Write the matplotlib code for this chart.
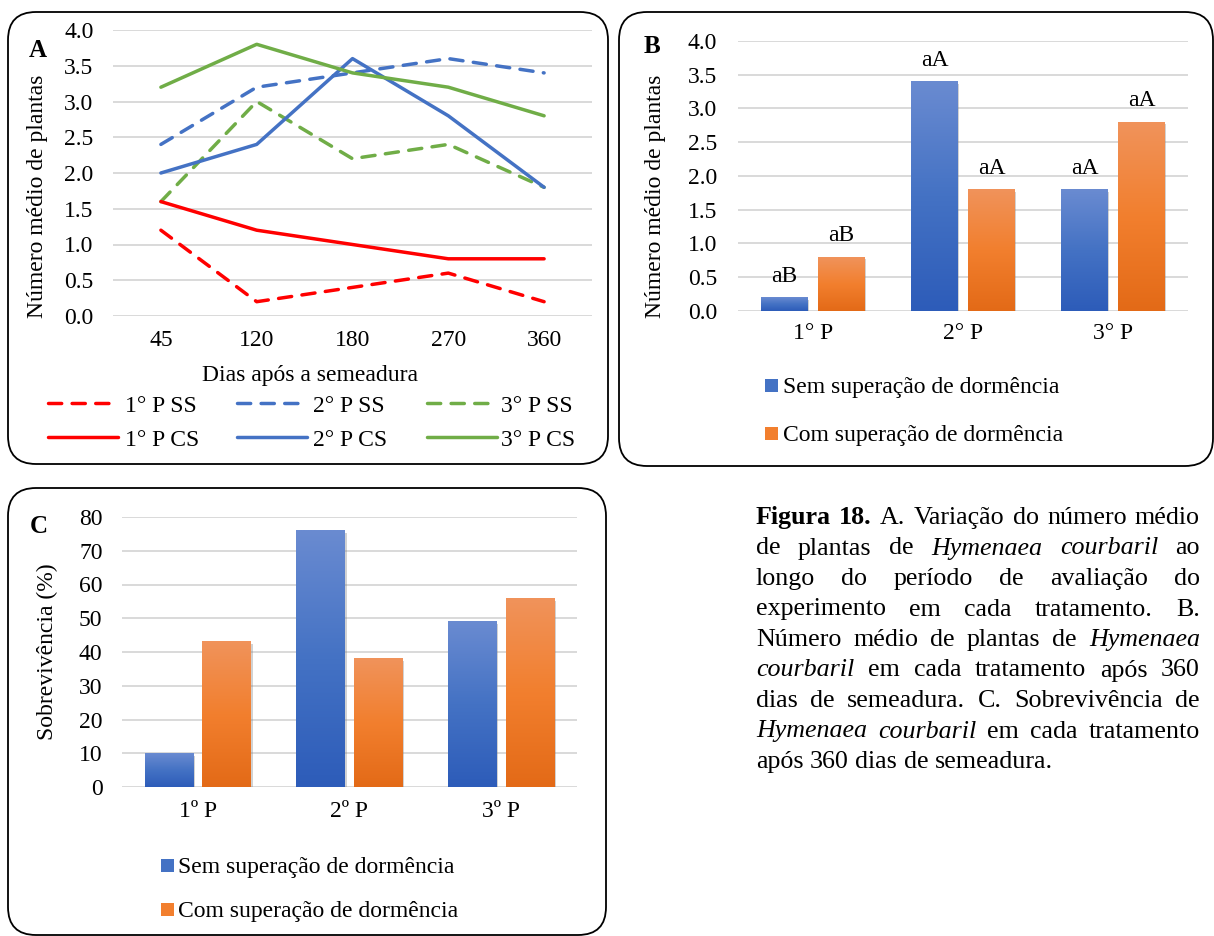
import matplotlib
matplotlib.use("Agg")
import matplotlib.pyplot as plt
import numpy as np
from matplotlib.patches import FancyBboxPatch, Rectangle
from matplotlib.lines import Line2D
from matplotlib.colors import LinearSegmentedColormap
import matplotlib.patheffects as pe

# ---------------- data ----------------
days = ['45', '120', '180', '270', '360']
p1_ss = [1.2, 0.2, 0.4, 0.6, 0.2]
p2_ss = [2.4, 3.2, 3.4, 3.6, 3.4]
p3_ss = [1.6, 3.0, 2.2, 2.4, 1.8]
p1_cs = [1.6, 1.2, 1.0, 0.8, 0.8]
p2_cs = [2.0, 2.4, 3.6, 2.8, 1.8]
p3_cs = [3.2, 3.8, 3.4, 3.2, 2.8]
a_yticks = [0.0, 0.5, 1.0, 1.5, 2.0, 2.5, 3.0, 3.5, 4.0]

b_periods = ['1° P', '2° P', '3° P']
b_sem = [0.2, 3.4, 1.8]
b_com = [0.8, 1.8, 2.8]
b_lab_sem = ['aB', 'aA', 'aA']
b_lab_com = ['aB', 'aA', 'aA']

c_periods = ['1º P', '2º P', '3º P']
c_sem = [10, 76, 49]
c_com = [43, 38, 56]
c_yticks = [0, 10, 20, 30, 40, 50, 60, 70, 80]

leg_sem = 'Sem superação de dormência'
leg_com = 'Com superação de dormência'

caption_lines = [
    [("Figura 18.", "b"), ("A. Variação do número médio", "n")],
    [("de plantas de", "n"), ("Hymenaea courbaril", "i"), ("ao", "n")],
    [("longo do período de avaliação do", "n")],
    [("experimento em cada tratamento. B.", "n")],
    [("Número médio de plantas de", "n"), ("Hymenaea", "i")],
    [("courbaril", "i"), ("em cada tratamento após 360", "n")],
    [("dias de semeadura. C. Sobrevivência de", "n")],
    [("Hymenaea courbaril", "i"), ("em cada tratamento", "n")],
    [("após 360 dias de semeadura.", "n")],
]

# ---------------- style ----------------
W, H, DPI = 1214, 936, 100
plt.rcParams['font.family'] = ['Liberation Serif', 'DejaVu Serif']
FS = 17
RED, BLUE, GREEN = '#FF0000', '#4472C4', '#70AD47'
BLUE_G = ['#2D5CB9', '#4472C4', '#6A8BD1']
ORANGE_G = ['#E36A17', '#F27F2E', '#F0935B']
GRID = '#D9D9D9'

fig = plt.figure(figsize=(W / DPI, H / DPI), dpi=DPI)
bg = fig.add_axes([0, 0, 1, 1])
bg.set_xlim(0, W)
bg.set_ylim(H, 0)
bg.axis('off')
bg.set_zorder(0)

for (x, y, w, h) in [(8, 12, 600, 452), (619, 12, 594, 454), (8, 488, 598, 447)]:
    bg.add_patch(FancyBboxPatch((x, y), w, h, boxstyle="round,pad=0,rounding_size=28",
                                fc='white', ec='black', lw=1.3))


def add_ax(l, t, r, b):
    ax = fig.add_axes([l / W, 1 - b / H, (r - l) / W, (b - t) / H])
    ax.set_zorder(1)
    ax.patch.set_alpha(0)
    for s in ax.spines.values():
        s.set_visible(False)
    ax.grid(axis='y', color=GRID, lw=1.4)
    ax.set_axisbelow(True)
    ax.tick_params(length=0, labelsize=FS)
    return ax


def grad_bars(ax, bars, stops):
    cmap = LinearSegmentedColormap.from_list('g', stops)
    grad = np.linspace(0, 1, 256).reshape(-1, 1)
    for r in bars:
        x0, y0, w, h = r.get_x(), r.get_y(), r.get_width(), r.get_height()
        r.set_facecolor(stops[1])
        r.set_zorder(1.9)
        r.set_path_effects([pe.SimplePatchShadow(offset=(1.2, -1.8), shadow_rgbFace='#808080',
                                                 alpha=0.35), pe.Normal()])
        ax.imshow(grad, extent=[x0, x0 + w, y0, y0 + h], origin='lower', aspect='auto',
                  cmap=cmap, zorder=2, interpolation='bilinear')


# ---------------- panel A ----------------
axA = add_ax(113, 30, 592, 316)
x = np.arange(len(days))
DASH = (0, (3.8, 3.0))
LW = 2.5
series = [
    ('1° P SS', p1_ss, RED, DASH), ('2° P SS', p2_ss, BLUE, DASH), ('3° P SS', p3_ss, GREEN, DASH),
    ('1° P CS', p1_cs, RED, '-'), ('2° P CS', p2_cs, BLUE, '-'), ('3° P CS', p3_cs, GREEN, '-'),
]
for lab, vals, col, ls in series:
    axA.plot(x, vals, color=col, lw=LW, ls=ls, dash_capstyle='round',
             solid_capstyle='round', solid_joinstyle='round', zorder=3)
axA.set_xlim(-0.5, len(days) - 0.5)
axA.set_ylim(0, 4)
axA.set_yticks(a_yticks)
axA.set_yticklabels([f'{v:.1f}' for v in a_yticks])
axA.set_xticks(x)
axA.set_xticklabels(days)
axA.tick_params(axis='y', pad=14)
axA.tick_params(axis='x', pad=10)

bg.text(38, 196, 'Número médio de plantas', rotation=90, ha='center', va='center', fontsize=FS)
bg.text(310, 381, 'Dias após a semeadura', ha='center', va='baseline', fontsize=FS)
bg.text(38, 57, 'A', ha='center', va='baseline', fontsize=18, fontweight='bold')

leg_cols = [(48, 118, 125), (237, 307, 313), (427, 497, 501)]
leg_rows = [403, 437]
for i, (lab, vals, col, ls) in enumerate(series):
    r, c = divmod(i, 3)
    x0, x1, tx = leg_cols[c]
    yy = leg_rows[r]
    bg.add_line(Line2D([x0, x1], [yy, yy], color=col, lw=LW, ls=ls, dash_capstyle='round',
                       solid_capstyle='round'))
    bg.text(tx, yy + 8.5, lab, ha='left', va='baseline', fontsize=FS)

# ---------------- panel B ----------------
axB = add_ax(738, 41, 1188, 311)
xb = np.arange(len(b_periods))
bw, off = 0.31, 0.19
bs = axB.bar(xb - off, b_sem, bw)
bc = axB.bar(xb + off, b_com, bw)
grad_bars(axB, bs, BLUE_G)
grad_bars(axB, bc, ORANGE_G)
for xi, v, t in zip(xb - off, b_sem, b_lab_sem):
    axB.annotate(t, (xi, v), xytext=(0, 11.5), textcoords='offset points', ha='center',
                 va='baseline', fontsize=FS)
for xi, v, t in zip(xb + off, b_com, b_lab_com):
    axB.annotate(t, (xi, v), xytext=(0, 11.5), textcoords='offset points', ha='center',
                 va='baseline', fontsize=FS)
axB.set_xlim(-0.5, len(b_periods) - 0.5)
axB.set_ylim(0, 4)
axB.set_yticks(a_yticks)
axB.set_yticklabels([f'{v:.1f}' for v in a_yticks])
axB.set_xticks(xb)
axB.set_xticklabels(b_periods)
axB.tick_params(axis='y', pad=15)
axB.tick_params(axis='x', pad=9)

bg.text(656, 196, 'Número médio de plantas', rotation=90, ha='center', va='center', fontsize=FS)
bg.text(652, 53, 'B', ha='center', va='baseline', fontsize=18, fontweight='bold')


def sq_legend(xsq, xt, ys):
    for yy, lab, col in zip(ys, [leg_sem, leg_com], [BLUE_G[1], ORANGE_G[1]]):
        bg.add_patch(Rectangle((xsq, yy - 6.5), 13, 13, fc=col, ec='none'))
        bg.text(xt, yy + 7, lab, ha='left', va='baseline', fontsize=FS)


sq_legend(765, 783, [385.5, 433.5])

# ---------------- panel C ----------------
axC = add_ax(122, 517, 577, 787)
xc = np.arange(len(c_periods))
bw, off = 0.32, 0.19
cs_ = axC.bar(xc - off, c_sem, bw)
cc_ = axC.bar(xc + off, c_com, bw)
grad_bars(axC, cs_, BLUE_G)
grad_bars(axC, cc_, ORANGE_G)
axC.set_xlim(-0.5, len(c_periods) - 0.5)
axC.set_ylim(0, 80)
axC.set_yticks(c_yticks)
axC.set_xticks(xc)
axC.set_xticklabels(c_periods)
axC.tick_params(axis='y', pad=14)
axC.tick_params(axis='x', pad=10)

bg.text(47, 652, 'Sobrevivência (%)', rotation=90, ha='center', va='center', fontsize=FS)
bg.text(39, 533, 'C', ha='center', va='baseline', fontsize=18, fontweight='bold')
sq_legend(161, 178, [865.5, 909.5])

# ---------------- caption (justified) ----------------
CFS = 18.7
XL, XR = 756, 1200
Y0, DY = 524, 30.5
renderer = fig.canvas.get_renderer()
space_w = 0.25 * CFS * DPI / 72
for li, segs in enumerate(caption_lines):
    words = []
    for txt, st in segs:
        for w in txt.split(' '):
            words.append((w, st))
    objs = []
    for w, st in words:
        kw = dict(fontsize=CFS, ha='left', va='baseline')
        if st == 'b':
            kw['fontweight'] = 'bold'
        elif st == 'i':
            kw['fontstyle'] = 'italic'
        t = bg.text(0, Y0 + li * DY, w, **kw)
        objs.append(t)
    widths = [t.get_window_extent(renderer).width for t in objs]
    last = li == len(caption_lines) - 1
    if last or len(objs) == 1:
        gap = space_w
    else:
        gap = (XR - XL - sum(widths)) / (len(objs) - 1)
    xx = XL
    for t, wdt in zip(objs, widths):
        t.set_x(xx)
        xx += wdt + gap

fig.savefig('out.png', dpi=DPI)
